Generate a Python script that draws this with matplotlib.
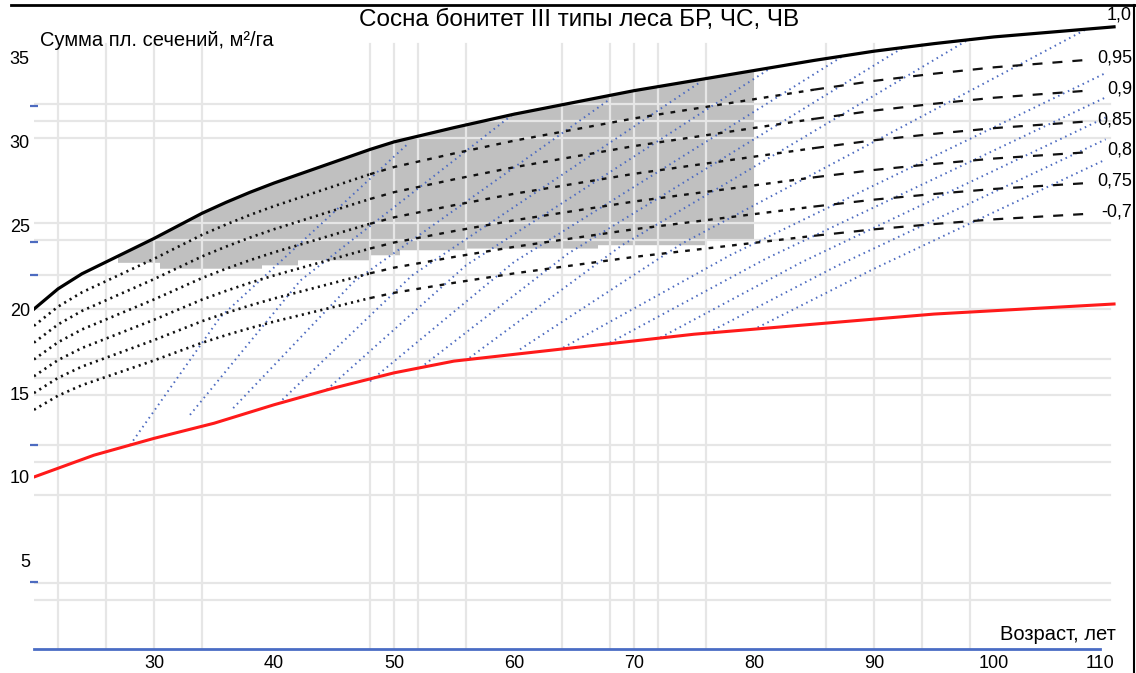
import numpy as np
import matplotlib
matplotlib.use("Agg")
import matplotlib.pyplot as plt
from matplotlib.lines import Line2D
from matplotlib.patches import Rectangle
from matplotlib.transforms import blended_transform_factory

# ---------------- data ----------------
age = [20, 22, 24, 26, 28, 30, 32, 34, 36, 38, 40, 42, 44, 46, 48, 50,
       55, 60, 65, 70, 75, 80, 85, 90, 95, 100, 105, 110]
g_norm = [20.0, 21.2, 22.1, 22.8, 23.5, 24.2, 24.95, 25.7, 26.35, 26.95, 27.5,
          28.0, 28.5, 29.0, 29.5, 29.95, 30.8, 31.6, 32.3, 33.0, 33.6, 34.2,
          34.8, 35.35, 35.8, 36.2, 36.5, 36.8]

age_red = [20, 25, 30, 35, 40, 45, 50, 55, 60, 65, 70, 75, 80, 85, 90, 95,
           100, 105, 110]
g_min = [10.0, 11.3, 12.3, 13.2, 14.3, 15.3, 16.2, 16.9, 17.3, 17.7, 18.1,
         18.5, 18.8, 19.1, 19.4, 19.7, 19.9, 20.1, 20.3]

densities = [0.95, 0.9, 0.85, 0.8, 0.75, 0.7]
density_labels = ["1,0", "0,95", "0,9", "0,85", "0,8", "0,75", "-0,7"]

gray_x = [27.0, 30.5, 39.0, 42.0, 48.0, 50.5, 56.0, 67.0, 76.0, 80.0]
gray_lo = [22.75, 22.4, 22.6, 22.9, 23.2, 23.5, 23.6, 23.8, 24.1, 24.1]

# blue growth tracks: start, middle, end (age, G)
blue_x = [
    [28.0, 35.5, 51.1], [33.0, 42.2, 60.1], [36.6, 46.6, 68.0],
    [40.7, 51.5, 75.5], [44.4, 56.0, 81.5], [48.0, 60.0, 87.5],
    [52.2, 64.5, 92.5], [56.3, 69.0, 98.0], [60.5, 74.0, 107.8],
    [64.1, 78.0, 109.3], [68.0, 81.0, 109.3], [72.2, 84.0, 109.3],
    [76.6, 87.0, 109.3], [80.3, 90.0, 109.3],
]
blue_y = [
    [11.9, 19.5, 29.8], [13.7, 21.7, 31.7], [14.1, 21.6, 32.5],
    [14.6, 22.0, 33.5], [15.2, 22.6, 34.4], [15.7, 22.8, 35.1],
    [16.5, 23.3, 35.6], [17.1, 23.8, 36.1], [17.6, 23.9, 36.7],
    [17.7, 23.2, 34.05], [18.0, 23.0, 32.6], [18.3, 22.8, 31.4],
    [18.75, 22.6, 30.1], [18.9, 22.4, 28.9],
]

h_grid = [32.2, 31.2, 30.2, 25.1, 24.1, 22.0, 20.0, 17.0, 15.9, 14.9,
          11.9, 10.9, 8.9, 3.7, 2.7]
v_grid = [22, 26, 30, 34, 48, 50, 52, 56, 64, 68, 70, 72, 76, 86, 90, 94, 98]
y_marks = [32.1, 30.0, 25.0, 24.0, 22.0, 11.9, 3.75]
x_marks = [30, 50, 70, 90]
x_ticks = [30, 40, 50, 60, 70, 80, 90, 100, 110]
y_ticks = [5, 10, 15, 20, 25, 30, 35]

title = "Сосна бонитет III типы леса БР, ЧС, ЧВ"
ylab = "Сумма пл. сечений, м²/га"
xlab = "Возраст, лет"

# ---------------- figure ----------------
plt.rcParams["font.family"] = ["Liberation Sans", "DejaVu Sans"]
W, H = 1136, 673
fig = plt.figure(figsize=(W / 100, H / 100), dpi=100)
ax = fig.add_axes([34 / W, 24 / H, (1127 - 34) / W, (649 - 5) / H])
ax.set_xlim(20, 111.08)
ax.set_ylim(-0.24, 38.1)
for s in ["left", "top", "right"]:
    ax.spines[s].set_visible(False)
ax.spines["bottom"].set_color("#4a6cc4")
ax.spines["bottom"].set_linewidth(2)
ax.spines["bottom"].set_bounds(20, 108.8)

# grid
for gy in h_grid:
    ax.axhline(gy, xmin=0, xmax=0.984, color="#e6e6e6", lw=1.6, zorder=1.5)
for gx in v_grid:
    ax.axvline(gx, ymin=0, ymax=0.94, color="#e6e6e6", lw=1.6, zorder=1.5)

# gray zone
xs_up = np.linspace(gray_x[0], gray_x[-1], 200)
ys_up = np.interp(xs_up, age, g_norm)
lo_x, lo_y = [], []
for i in range(len(gray_x) - 1):
    lo_x += [gray_x[i], gray_x[i + 1]]
    lo_y += [gray_lo[i], gray_lo[i]]
poly_x = list(xs_up) + lo_x[::-1]
poly_y = list(ys_up) + lo_y[::-1]
ax.fill(poly_x, poly_y, color="#c0c0c0", lw=0, zorder=1)

# blue tracks
for bx, by in zip(blue_x, blue_y):
    ax.plot(bx, by, color="#4d6bc0", lw=1.4, ls=(0, (0.8, 2.0)), zorder=2)

# density lines (stop just before the labels)
clip_rect = Rectangle((20, -1), 108.0 - 20, 40, transform=ax.transData)
age_a = np.array(age)
norm_a = np.array(g_norm)
segs = [(20, 48, (0, (0.8, 1.6)), 1.9), (48, 85, (0, (2.0, 3.0)), 1.7),
        (85, 110, (0, (4.5, 4.5)), 1.6)]
for k in densities:
    for a0, a1, ls, lw in segs:
        m = (age_a >= a0) & (age_a <= a1)
        ln, = ax.plot(age_a[m], k * norm_a[m], color="#111111", lw=lw, ls=ls,
                      zorder=3)
        ln.set_clip_path(clip_rect)

# top and bottom curves
ax.plot(age, g_norm, color="black", lw=2.3, zorder=4)
ax.plot(age_red, g_min, color="#ff1a1a", lw=2.2, zorder=4)

# ticks
ax.set_xticks(x_ticks)
ax.set_xticklabels([str(t) for t in x_ticks], fontsize=13)
ax.get_xticklabels()[-1].set_horizontalalignment("right")
ax.set_xticks(x_marks, minor=True)
ax.tick_params(axis="x", which="major", length=0, pad=4)
ax.tick_params(axis="x", which="minor", length=5, width=1.8,
               color="#4a6cc4", direction="inout")
ax.set_yticks(y_ticks)
ax.set_yticklabels([str(t) for t in y_ticks], fontsize=13)
ax.set_yticks(y_marks, minor=True)
ax.tick_params(axis="y", which="major", length=0, pad=3)
ax.tick_params(axis="y", which="minor", length=6, width=1.6,
               color="#4d6bc0", direction="inout")

# density labels (right-aligned so they stay inside the picture)
lab_tr = blended_transform_factory(fig.transFigure, ax.transData)
lab_vals = [1.0] + densities
for v, t in zip(lab_vals, density_labels):
    yy = v * g_norm[-1] + (0.7 if v == 1.0 else 0.0)
    ax.text(1132 / W, yy, t, fontsize=13, ha="right", va="center",
            transform=lab_tr, clip_on=False, zorder=5)

# texts
fig.text(579 / W, 1 - 20 / H, title, fontsize=17.5, ha="center", va="center")
fig.text(40 / W, 1 - 40 / H, ylab, fontsize=14.5, ha="left", va="center")
fig.text(1116 / W, 1 - 635 / H, xlab, fontsize=14.5, ha="right",
         va="center")

# frame lines
fig.add_artist(Line2D([11 / W, 1.0], [1 - 5 / H, 1 - 5 / H], color="black",
                      lw=2))
fig.add_artist(Line2D([1134 / W, 1134 / W], [0, 1 - 5 / H], color="black",
                      lw=1.5))

fig.savefig("out.png", dpi=100)
